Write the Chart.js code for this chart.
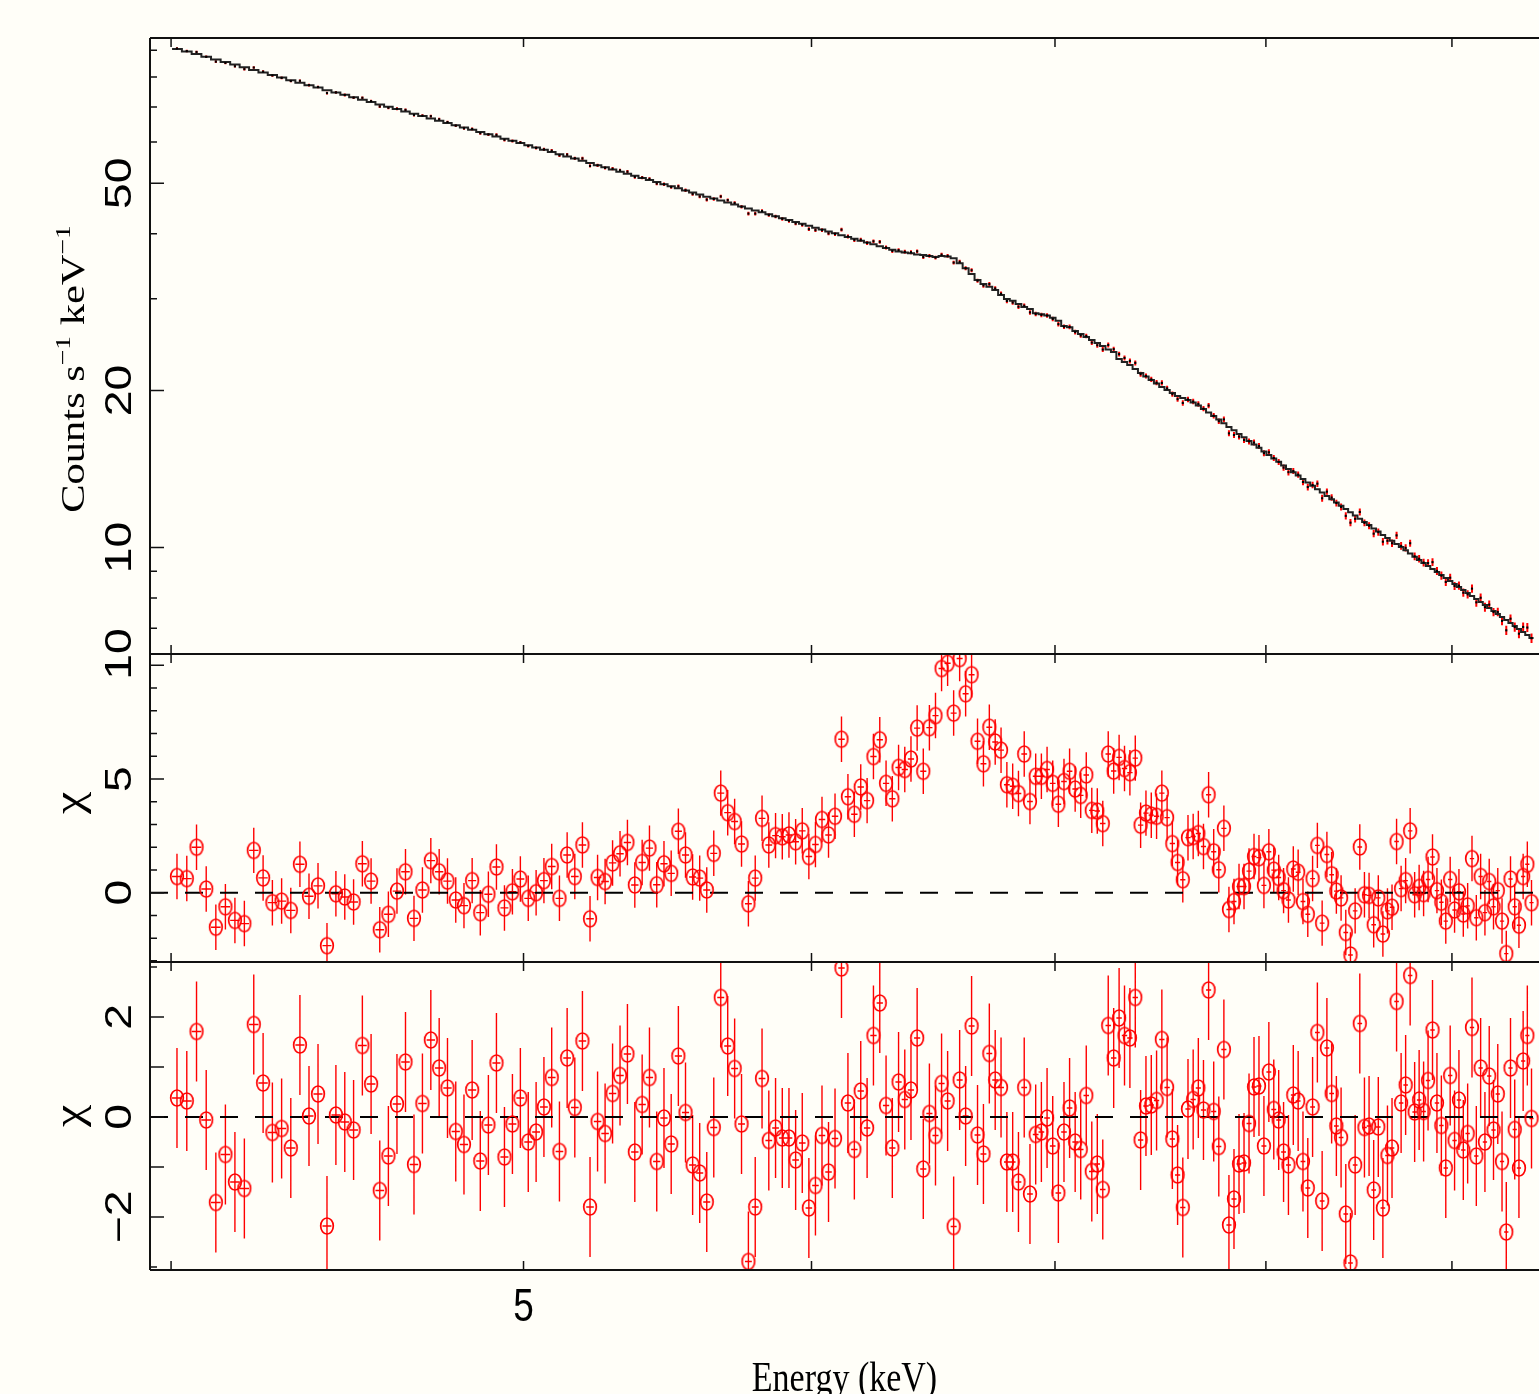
<!DOCTYPE html>
<html lang="en">
<head>
<meta charset="utf-8">
<title>Spectrum with residuals</title>
<script src="https://cdn.jsdelivr.net/npm/chart.js@4.4.1/dist/chart.umd.min.js"></script>
<style>
  html, body { margin: 0; padding: 0; background: #fffef8; overflow: hidden; }
  canvas { display: block; }
</style>
</head>
<body>
<canvas id="spectrum" width="1539" height="1394"></canvas>
<script>
// bin centres (keV), bins are 0.025 keV wide
const energy = [
  4.015, 4.04, 4.065, 4.09, 4.115, 4.14, 4.165, 4.19, 4.215, 4.24, 4.265, 4.29, 4.315, 4.34, 4.365, 4.39, 4.415, 4.44, 4.465, 4.49,
  4.515, 4.54, 4.565, 4.59, 4.615, 4.64, 4.665, 4.69, 4.715, 4.74, 4.765, 4.79, 4.815, 4.84, 4.865, 4.89, 4.915, 4.94, 4.965, 4.99,
  5.015, 5.04, 5.065, 5.09, 5.115, 5.14, 5.165, 5.19, 5.215, 5.24, 5.265, 5.29, 5.315, 5.34, 5.365, 5.39, 5.415, 5.44, 5.465, 5.49,
  5.515, 5.54, 5.565, 5.59, 5.615, 5.64, 5.665, 5.69, 5.715, 5.74, 5.765, 5.79, 5.815, 5.84, 5.865, 5.89, 5.915, 5.94, 5.965, 5.99,
  6.015, 6.04, 6.065, 6.09, 6.115, 6.14, 6.165, 6.19, 6.215, 6.24, 6.265, 6.29, 6.315, 6.34, 6.365, 6.39, 6.415, 6.44, 6.465, 6.49,
  6.515, 6.54, 6.565, 6.59, 6.615, 6.64, 6.665, 6.69, 6.715, 6.74, 6.765, 6.79, 6.815, 6.84, 6.865, 6.89, 6.915, 6.94, 6.965, 6.99,
  7.015, 7.04, 7.065, 7.09, 7.115, 7.14, 7.165, 7.19, 7.215, 7.24, 7.265, 7.29, 7.315, 7.34, 7.365, 7.39, 7.415, 7.44, 7.465, 7.49,
  7.515, 7.54, 7.565, 7.59, 7.615, 7.64, 7.665, 7.69, 7.715, 7.74, 7.765, 7.79, 7.815, 7.84, 7.865, 7.89, 7.915, 7.94, 7.965, 7.99,
  8.015, 8.04, 8.065, 8.09, 8.115, 8.14, 8.165, 8.19, 8.215, 8.24, 8.265, 8.29, 8.315, 8.34, 8.365, 8.39, 8.415, 8.44, 8.465, 8.49,
  8.515, 8.54, 8.565, 8.59, 8.615, 8.64, 8.665, 8.69, 8.715, 8.74, 8.765, 8.79, 8.815, 8.84, 8.865, 8.89, 8.915, 8.94, 8.965, 8.99,
  9.015, 9.04, 9.065, 9.09, 9.115, 9.14, 9.165, 9.19, 9.215, 9.24, 9.265, 9.29, 9.315, 9.34, 9.365, 9.39, 9.415, 9.44, 9.465
];
const binHalfWidth = 0.0125;

// folded model, counts s^-1 keV^-1
const modelRate = [
  90.52, 89.50, 88.47, 87.45, 86.42, 85.44, 84.46, 83.48, 82.50, 81.58, 80.67, 79.75, 78.83, 77.99, 77.14, 76.30, 75.45, 74.67, 73.89, 73.10,
  72.32, 71.59, 70.85, 70.12, 69.38, 68.68, 67.99, 67.29, 66.59, 65.93, 65.28, 64.62, 63.96, 63.34, 62.73, 62.11, 61.49, 60.90, 60.32, 59.73,
  59.14, 58.57, 57.99, 57.42, 56.84, 56.30, 55.76, 55.21, 54.67, 54.16, 53.65, 53.14, 52.63, 52.15, 51.67, 51.19, 50.71, 50.26, 49.80, 49.35,
  48.89, 48.45, 48.01, 47.56, 47.12, 46.72, 46.31, 45.91, 45.50, 45.12, 44.74, 44.35, 43.97, 43.60, 43.23, 42.86, 42.49, 42.14, 41.79, 41.44,
  41.09, 40.76, 40.42, 40.09, 39.75, 39.43, 39.11, 38.79, 38.47, 38.17, 37.87, 37.57, 37.27, 36.99, 36.83, 36.70, 36.50, 36.42, 36.26, 36.10,
  36.26, 36.18, 35.89, 35.11, 34.34, 33.49, 32.61, 32.04, 31.66, 31.20, 30.52, 29.98, 29.76, 29.33, 28.94, 28.69, 28.15, 28.02, 27.88, 27.61,
  27.24, 26.61, 26.46, 26.03, 25.69, 25.35, 25.01, 24.68, 24.36, 23.99, 23.72, 23.00, 22.70, 22.40, 22.01, 21.62, 21.29, 20.96, 20.64, 20.32,
  20.06, 19.79, 19.53, 19.36, 19.19, 18.98, 18.73, 18.44, 18.16, 17.88, 17.60, 17.31, 17.03, 16.78, 16.52, 16.27, 16.01, 15.77, 15.53, 15.29,
  15.05, 14.82, 14.60, 14.37, 14.14, 13.94, 13.74, 13.53, 13.33, 13.14, 12.94, 12.75, 12.55, 12.38, 12.20, 12.03, 11.85, 11.69, 11.52, 11.36,
  11.19, 11.04, 10.88, 10.73, 10.57, 10.43, 10.30, 10.16, 10.02, 9.88, 9.74, 9.60, 9.461, 9.339, 9.217, 9.094, 8.972, 8.856, 8.741, 8.625,
  8.509, 8.399, 8.289, 8.179, 8.069, 7.965, 7.861, 7.757, 7.653, 7.554, 7.455, 7.356, 7.257, 7.163, 7.070, 6.976, 6.882, 6.792, 6.702
];

// measured rate and its 1-sigma error
const rate = [
  90.71, 89.66, 89.31, 87.42, 85.58, 85.08, 83.84, 82.79, 83.37, 81.90, 80.52, 79.64, 78.55, 78.65, 77.15, 76.51, 74.47, 74.69, 73.85, 72.98,
  72.95, 71.88, 70.20, 69.78, 69.49, 69.15, 67.58, 67.41, 67.25, 66.34, 65.52, 64.50, 63.73, 63.57, 62.37, 62.04, 61.93, 60.57, 60.26, 59.88,
  58.94, 58.45, 58.07, 57.74, 56.57, 56.76, 55.83, 55.80, 53.97, 54.13, 53.52, 53.32, 52.95, 52.63, 51.40, 51.28, 51.00, 49.93, 49.79, 49.15,
  49.34, 48.48, 47.66, 47.16, 46.51, 46.64, 47.17, 46.41, 45.84, 45.07, 43.73, 43.72, 44.24, 43.44, 43.16, 42.72, 42.35, 41.85, 41.61, 40.82,
  40.64, 40.64, 40.06, 39.95, 40.73, 39.52, 38.90, 38.96, 38.40, 38.69, 38.60, 37.64, 37.07, 37.21, 36.94, 36.87, 37.01, 36.09, 36.28, 35.99,
  36.47, 36.28, 35.21, 35.34, 34.35, 34.04, 32.50, 31.82, 32.03, 31.42, 30.69, 29.72, 29.51, 28.97, 29.11, 28.26, 28.05, 27.94, 27.87, 27.45,
  26.83, 26.53, 26.51, 25.90, 25.52, 25.46, 24.73, 24.44, 23.98, 24.47, 24.02, 23.50, 23.11, 22.80, 22.61, 21.51, 21.34, 21.02, 20.72, 20.69,
  20.20, 19.69, 19.26, 18.94, 19.23, 19.06, 18.86, 18.47, 18.72, 17.90, 17.47, 17.61, 16.56, 16.44, 16.32, 16.08, 15.98, 15.90, 15.66, 15.17,
  15.23, 14.85, 14.59, 14.23, 13.95, 14.02, 13.80, 13.36, 13.06, 13.18, 13.26, 12.43, 12.80, 12.47, 12.17, 11.96, 11.50, 11.16, 11.35, 11.70,
  11.15, 11.01, 10.63, 10.70, 10.26, 10.30, 10.19, 10.55, 10.07, 9.982, 10.19, 9.616, 9.515, 9.357, 9.334, 9.372, 9.017, 8.829, 8.588, 8.750,
  8.438, 8.450, 8.190, 8.129, 8.338, 7.848, 8.008, 7.682, 7.768, 7.518, 7.519, 7.231, 6.935, 7.300, 7.035, 6.833, 7.039, 7.020, 6.698
];
const rateErr = [
  0.50, 0.49, 0.49, 0.49, 0.49, 0.48, 0.48, 0.48, 0.47, 0.47, 0.47, 0.47, 0.46, 0.46, 0.46, 0.46, 0.45, 0.45, 0.45, 0.45,
  0.44, 0.44, 0.44, 0.44, 0.43, 0.43, 0.43, 0.43, 0.43, 0.42, 0.42, 0.42, 0.42, 0.42, 0.41, 0.41, 0.41, 0.41, 0.41, 0.40,
  0.40, 0.40, 0.40, 0.40, 0.39, 0.39, 0.39, 0.39, 0.39, 0.38, 0.38, 0.38, 0.38, 0.38, 0.38, 0.37, 0.37, 0.37, 0.37, 0.37,
  0.37, 0.36, 0.36, 0.36, 0.36, 0.36, 0.36, 0.35, 0.35, 0.35, 0.35, 0.35, 0.35, 0.34, 0.34, 0.34, 0.34, 0.34, 0.34, 0.34,
  0.33, 0.33, 0.33, 0.33, 0.33, 0.33, 0.33, 0.33, 0.32, 0.32, 0.32, 0.32, 0.32, 0.32, 0.32, 0.32, 0.32, 0.32, 0.31, 0.31,
  0.31, 0.31, 0.31, 0.31, 0.31, 0.30, 0.30, 0.30, 0.29, 0.29, 0.29, 0.29, 0.28, 0.28, 0.28, 0.28, 0.28, 0.28, 0.28, 0.27,
  0.27, 0.27, 0.27, 0.27, 0.26, 0.26, 0.26, 0.26, 0.26, 0.26, 0.25, 0.25, 0.25, 0.25, 0.25, 0.24, 0.24, 0.24, 0.24, 0.24,
  0.23, 0.23, 0.23, 0.23, 0.23, 0.23, 0.23, 0.22, 0.22, 0.22, 0.22, 0.22, 0.22, 0.21, 0.21, 0.21, 0.21, 0.21, 0.21, 0.20,
  0.20, 0.20, 0.20, 0.20, 0.20, 0.19, 0.19, 0.19, 0.19, 0.19, 0.19, 0.19, 0.18, 0.18, 0.18, 0.18, 0.18, 0.18, 0.18, 0.18,
  0.17, 0.17, 0.17, 0.17, 0.17, 0.17, 0.17, 0.17, 0.17, 0.16, 0.16, 0.16, 0.16, 0.16, 0.16, 0.16, 0.16, 0.16, 0.15, 0.15,
  0.15, 0.15, 0.15, 0.15, 0.15, 0.15, 0.15, 0.15, 0.14, 0.14, 0.14, 0.14, 0.14, 0.14, 0.14, 0.14, 0.14, 0.14, 0.14
];

// residuals against the continuum alone (middle panel)
const chiLine = [
  0.71, 0.62, 2.00, 0.16, -1.52, -0.62, -1.22, -1.36, 1.86, 0.65, -0.44, -0.37, -0.78, 1.25, -0.16, 0.30, -2.33, -0.05, -0.19, -0.41,
  1.27, 0.51, -1.63, -0.95, 0.07, 0.92, -1.13, 0.12, 1.41, 0.92, 0.51, -0.32, -0.57, 0.53, -0.88, -0.07, 1.13, -0.67, 0.04, 0.60,
  -0.25, 0.00, 0.53, 1.15, -0.25, 1.66, 0.71, 2.10, -1.15, 0.67, 0.49, 1.31, 1.71, 2.21, 0.34, 1.33, 1.96, 0.35, 1.27, 0.85,
  2.70, 1.66, 0.69, 0.64, 0.12, 1.73, 4.38, 3.52, 3.13, 2.14, -0.49, 0.64, 3.27, 2.10, 2.51, 2.46, 2.54, 2.24, 2.72, 1.59,
  2.12, 3.22, 2.54, 3.36, 6.75, 4.22, 3.45, 4.65, 4.05, 5.99, 6.73, 4.81, 4.13, 5.51, 5.42, 5.88, 7.24, 5.34, 7.26, 7.79,
  9.86, 10.09, 7.90, 10.30, 8.75, 9.59, 6.66, 5.67, 7.28, 6.63, 6.27, 4.75, 4.68, 4.36, 6.10, 4.01, 5.12, 5.12, 5.42, 4.81,
  3.89, 4.89, 5.34, 4.56, 4.28, 5.18, 3.62, 3.59, 3.04, 6.10, 5.35, 5.95, 5.46, 5.28, 5.92, 2.97, 3.50, 3.41, 3.36, 4.38,
  3.30, 2.16, 1.33, 0.57, 2.42, 2.47, 2.60, 2.03, 4.31, 1.80, 1.01, 2.83, -0.74, -0.39, 0.27, 0.27, 0.95, 1.59, 1.54, 0.32,
  1.80, 0.99, 0.67, 0.09, -0.32, 1.04, 0.90, -0.39, -0.95, 0.62, 2.08, -1.34, 1.68, 0.79, 0.07, -0.23, -1.75, -2.74, -0.80, 2.01,
  -0.09, -0.12, -1.41, -0.23, -1.82, -0.80, -0.64, 2.25, 0.18, 0.53, 2.72, -0.09, 0.23, -0.04, 0.58, 1.57, 0.09, -0.42, -1.25, 0.58,
  -0.76, 0.04, -0.94, -0.58, 1.50, -1.10, 0.71, -0.88, 0.49, -0.62, 0.09, -1.25, -2.68, 0.60, -0.62, -1.43, 0.71, 1.25, -0.44
];

// residuals against the full model (bottom panel)
const chiFit = [
  0.38, 0.32, 1.71, -0.06, -1.71, -0.75, -1.30, -1.43, 1.85, 0.68, -0.31, -0.23, -0.62, 1.44, 0.02, 0.46, -2.18, 0.04, -0.10, -0.26,
  1.43, 0.66, -1.47, -0.78, 0.26, 1.10, -0.95, 0.27, 1.54, 0.98, 0.58, -0.29, -0.55, 0.54, -0.88, -0.16, 1.08, -0.80, -0.14, 0.38,
  -0.50, -0.30, 0.20, 0.79, -0.69, 1.18, 0.19, 1.52, -1.80, -0.09, -0.33, 0.47, 0.83, 1.26, -0.70, 0.25, 0.79, -0.89, -0.02, -0.54,
  1.22, 0.09, -0.96, -1.12, -1.70, -0.21, 2.39, 1.42, 0.97, -0.14, -2.89, -1.80, 0.77, -0.47, -0.22, -0.42, -0.42, -0.86, -0.52, -1.82,
  -1.37, -0.37, -1.10, -0.43, 2.98, 0.28, -0.65, 0.52, -0.22, 1.63, 2.28, 0.23, -0.62, 0.70, 0.35, 0.54, 1.58, -1.04, 0.07, -0.37,
  0.67, 0.32, -2.19, 0.74, 0.02, 1.82, -0.36, -0.74, 1.27, 0.74, 0.59, -0.90, -0.90, -1.30, 0.59, -1.54, -0.35, -0.30, -0.02, -0.58,
  -1.52, -0.30, 0.18, -0.50, -0.65, 0.43, -1.09, -0.94, -1.45, 1.83, 1.18, 1.98, 1.63, 1.58, 2.39, -0.46, 0.22, 0.24, 0.33, 1.55,
  0.59, -0.44, -1.16, -1.81, 0.16, 0.35, 0.58, 0.14, 2.54, 0.11, -0.59, 1.35, -2.16, -1.64, -0.94, -0.92, -0.13, 0.60, 0.62, -0.58,
  0.90, 0.15, -0.06, -0.70, -0.96, 0.44, 0.32, -0.89, -1.42, 0.20, 1.69, -1.68, 1.38, 0.47, -0.18, -0.41, -1.94, -2.92, -0.96, 1.87,
  -0.21, -0.18, -1.46, -0.20, -1.82, -0.77, -0.62, 2.31, 0.28, 0.64, 2.83, 0.10, 0.34, 0.11, 0.73, 1.74, 0.28, -0.17, -1.02, 0.83,
  -0.47, 0.34, -0.66, -0.33, 1.79, -0.78, 0.98, -0.50, 0.82, -0.26, 0.46, -0.89, -2.30, 0.98, -0.25, -1.02, 1.12, 1.63, -0.03
];
const chiErr = 1;

// axes
const energyMin = 3.947, energyMax = 9.51;
const energyTicks = [4, 5, 6, 7, 8, 9];
const energyLabels = [5];
const rateMin = 6.246, rateMax = 95.0;
const rateTicks = [7, 8, 9, 10, 20, 30, 40, 50, 60, 70, 80, 90];
const rateLabels = [10, 20, 50];
const chiLineMin = -3.05, chiLineMax = 10.5;
const chiLineTicks = [-3, -2, -1, 0, 1, 2, 3, 4, 5, 6, 7, 8, 9, 10];
const chiLineLabels = [0, 5, 10];
const chiFitMin = -3.06, chiFitMax = 3.1;
const chiFitTicks = [-3, -2, -1, 0, 1, 2, 3];
const chiFitMajor = [-2, -1, 0, 1, 2];
const chiFitLabels = [-2, 0, 2];

const PAPER = '#fffef8';
const RED = '#ff0000';
const TEXT_STRETCH = 1.25;          // lettering in the figure is taller than wide
const TICK_FONT = '37px "Liberation Sans", Arial, sans-serif';
const TITLE_FONT = '34px "Liberation Serif", "Times New Roman", serif';
const SUP_FONT = '22px "Liberation Serif", "Times New Roman", serif';
const CHI_FONT = '40px "Liberation Serif", "Times New Roman", serif';

const ringMarker = (() => {
  const c = document.createElement('canvas');
  c.width = 18;
  c.height = 22;
  const g = c.getContext('2d');
  g.strokeStyle = RED;
  g.lineWidth = 1.7;
  g.beginPath();
  g.ellipse(9, 11, 6.3, 8.0, 0, 0, Math.PI * 2);
  g.stroke();
  return c;
})();

function toPoints(values) {
  return energy.map((e, i) => ({x: e, y: values[i]}));
}

const modelSteps = [];
energy.forEach((e, i) => {
  modelSteps.push({x: e - binHalfWidth, y: modelRate[i]});
  modelSteps.push({x: e + binHalfWidth, y: modelRate[i]});
});
const zeroLine = [{x: energyMin, y: 0}, {x: energyMax, y: 0}];

function label(ctx, text, x, y, font, rotated) {
  ctx.save();
  ctx.translate(x, y);
  ctx.scale(1, TEXT_STRETCH);
  if (rotated) ctx.rotate(-Math.PI / 2);
  ctx.font = font;
  ctx.textAlign = 'center';
  ctx.textBaseline = 'alphabetic';
  ctx.fillStyle = '#000';
  ctx.fillText(text, 0, 0);
  ctx.restore();
}

function countsTitle(ctx, x, y) {
  const parts = [['Counts s', TITLE_FONT, 0], ['\u22121', SUP_FONT, -14], [' keV', TITLE_FONT, 0], ['\u22121', SUP_FONT, -14]];
  ctx.save();
  ctx.translate(x, y);
  ctx.scale(1, TEXT_STRETCH);
  ctx.rotate(-Math.PI / 2);
  ctx.fillStyle = '#000';
  ctx.textAlign = 'left';
  ctx.textBaseline = 'alphabetic';
  let total = 0;
  parts.forEach(([t, f]) => { ctx.font = f; total += ctx.measureText(t).width; });
  let pos = -total / 2;
  parts.forEach(([t, f, dy]) => {
    ctx.font = f;
    ctx.fillText(t, pos, dy);
    pos += ctx.measureText(t).width;
  });
  ctx.restore();
}

const paper = {
  id: 'paper',
  beforeDraw(chart) {
    const {ctx, width, height} = chart;
    ctx.save();
    ctx.fillStyle = PAPER;
    ctx.fillRect(0, 0, width, height);
    ctx.restore();
  }
};

const errorBars = {
  id: 'errorBars',
  beforeDatasetsDraw(chart) {
    const {ctx, scales: {x, yRate, yLine, yFit}} = chart;
    const clipTo = (ys) => {
      ctx.beginPath();
      ctx.rect(x.left, ys.top, x.right - x.left, ys.bottom - ys.top);
      ctx.clip();
    };

    ctx.save();
    clipTo(yRate);
    ctx.strokeStyle = RED;
    ctx.lineWidth = 2;
    ctx.beginPath();
    energy.forEach((e, i) => {
      const px = x.getPixelForValue(e);
      ctx.moveTo(px, yRate.getPixelForValue(rate[i] - rateErr[i]));
      ctx.lineTo(px, yRate.getPixelForValue(rate[i] + rateErr[i]));
    });
    ctx.stroke();
    ctx.restore();

    [[yLine, chiLine], [yFit, chiFit]].forEach(([ys, chi]) => {
      ctx.save();
      clipTo(ys);
      ctx.strokeStyle = RED;
      ctx.lineWidth = 1.4;
      ctx.beginPath();
      energy.forEach((e, i) => {
        const px = x.getPixelForValue(e);
        const py = ys.getPixelForValue(chi[i]);
        ctx.moveTo(px, ys.getPixelForValue(chi[i] - chiErr));
        ctx.lineTo(px, ys.getPixelForValue(chi[i] + chiErr));
        ctx.moveTo(x.getPixelForValue(e - binHalfWidth), py);
        ctx.lineTo(x.getPixelForValue(e + binHalfWidth), py);
      });
      ctx.stroke();
      ctx.restore();
    });
  }
};

const frame = {
  id: 'frame',
  afterDraw(chart) {
    const {ctx, scales: {x, yRate, yLine, yFit}} = chart;
    const left = x.left, right = x.right;
    ctx.save();
    ctx.strokeStyle = '#111';
    ctx.lineWidth = 2;
    ctx.beginPath();
    ctx.moveTo(left, yRate.top);
    ctx.lineTo(left, yFit.bottom);
    [yRate.top, yLine.top, yFit.top, yFit.bottom].forEach(py => {
      ctx.moveTo(left, py);
      ctx.lineTo(right, py);
    });
    ctx.stroke();

    // tick marks point into every panel
    ctx.lineWidth = 1.5;
    ctx.beginPath();
    [yRate, yLine, yFit].forEach(ys => {
      energyTicks.forEach(e => {
        const px = x.getPixelForValue(e);
        ctx.moveTo(px, ys.top);
        ctx.lineTo(px, ys.top + 9);
        ctx.moveTo(px, ys.bottom);
        ctx.lineTo(px, ys.bottom - 9);
      });
    });
    const yTicks = (ys, ticks, major) => {
      ticks.forEach(v => {
        const py = ys.getPixelForValue(v);
        ctx.moveTo(left, py);
        ctx.lineTo(left + (major.includes(v) ? 14 : 7), py);
      });
    };
    yTicks(yRate, rateTicks, rateLabels);
    yTicks(yLine, chiLineTicks, chiLineLabels);
    yTicks(yFit, chiFitTicks, chiFitMajor);
    ctx.stroke();
    ctx.restore();

    // numbers; the top label of the middle panel sits on the panel edge
    rateLabels.forEach(v => label(ctx, String(v), 131, yRate.getPixelForValue(v), TICK_FONT, true));
    chiLineLabels.forEach(v => {
      const top = v === chiLineLabels[chiLineLabels.length - 1];
      label(ctx, String(v), 131, top ? yLine.top : yLine.getPixelForValue(v), TICK_FONT, true);
    });
    chiFitLabels.forEach(v => label(ctx, String(v).replace('-', '\u2212'), 131, yFit.getPixelForValue(v), TICK_FONT, true));
    energyLabels.forEach(v => label(ctx, String(v), x.getPixelForValue(v), 1321, TICK_FONT, false));

    // axis titles
    countsTitle(ctx, 84, 369);
    label(ctx, '\u03c7', 82, 803, CHI_FONT, true);
    label(ctx, '\u03c7', 82, 1116, CHI_FONT, true);
    label(ctx, 'Energy (keV)', (left + right) / 2, 1391, TITLE_FONT, false);
  }
};

new Chart(document.getElementById('spectrum'), {
  type: 'scatter',
  data: {
    datasets: [
      {
        label: 'data',
        data: toPoints(rate),
        yAxisID: 'yRate',
        pointStyle: 'rect',
        pointRadius: 1.5,
        backgroundColor: '#000',
        borderWidth: 0
      },
      {
        label: 'model',
        data: modelSteps,
        yAxisID: 'yRate',
        showLine: true,
        borderColor: '#222',
        borderWidth: 2,
        pointRadius: 0,
        tension: 0
      },
      {
        label: 'residuals (continuum)',
        data: toPoints(chiLine),
        yAxisID: 'yLine',
        pointStyle: ringMarker,
        pointRadius: 6
      },
      {
        label: 'zero',
        data: zeroLine,
        yAxisID: 'yLine',
        showLine: true,
        borderColor: '#000',
        borderWidth: 2,
        borderDash: [18, 17],
        pointRadius: 0
      },
      {
        label: 'residuals (full model)',
        data: toPoints(chiFit),
        yAxisID: 'yFit',
        pointStyle: ringMarker,
        pointRadius: 6
      },
      {
        label: 'zero',
        data: zeroLine,
        yAxisID: 'yFit',
        showLine: true,
        borderColor: '#000',
        borderWidth: 2,
        borderDash: [18, 17],
        pointRadius: 0
      }
    ]
  },
  options: {
    responsive: false,
    animation: false,
    events: [],
    layout: {autoPadding: false, padding: {left: 150, right: 0, top: 38, bottom: 124}},
    plugins: {legend: {display: false}, tooltip: {enabled: false}},
    scales: {
      x: {type: 'logarithmic', bounds: 'data', min: energyMin, max: energyMax, display: false},
      yFit: {type: 'linear', bounds: 'data', position: 'left', stack: 'panels', stackWeight: 1, weight: 1, min: chiFitMin, max: chiFitMax, display: false},
      yLine: {type: 'linear', bounds: 'data', position: 'left', stack: 'panels', stackWeight: 1, weight: 2, min: chiLineMin, max: chiLineMax, display: false},
      yRate: {type: 'logarithmic', bounds: 'data', position: 'left', stack: 'panels', stackWeight: 2, weight: 3, min: rateMin, max: rateMax, display: false}
    }
  },
  plugins: [paper, errorBars, frame]
});
</script>
</body>
</html>
